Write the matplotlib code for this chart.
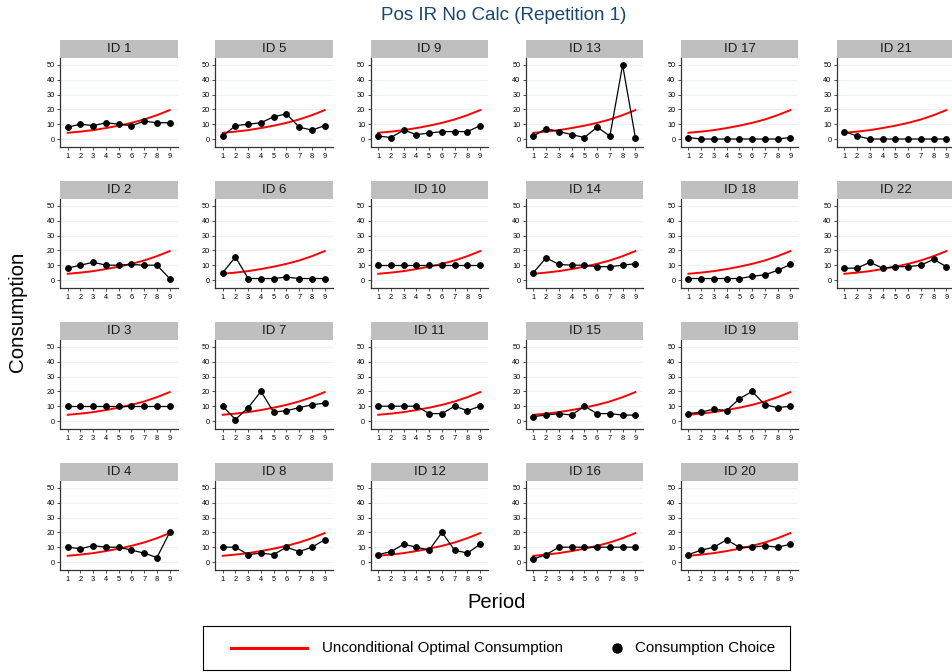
import matplotlib
matplotlib.use("Agg")
import matplotlib.pyplot as plt
from matplotlib.lines import Line2D

plt.rcParams['font.family'] = ['Liberation Sans', 'DejaVu Sans']

periods = [1, 2, 3, 4, 5, 6, 7, 8, 9]
optimal = [4.2, 5.0, 6.0, 7.4, 9.0, 10.9, 13.2, 16.1, 19.5]

choices = {
    1: [8, 10, 9, 11, 10, 9, 12, 11, 11],
    2: [8, 10, 12, 10, 10, 10.5, 10, 10, 1],
    3: [10, 10, 10, 10, 10, 10, 10, 10, 10],
    4: [10, 9, 11, 10, 10, 8, 6, 3, 20],
    5: [2, 9, 10, 11, 15, 17, 8, 6, 9],
    6: [5, 15.5, 1, 1, 1, 2, 1, 1, 1],
    7: [10, 1, 9, 20, 6, 7, 9, 11, 12],
    8: [10, 10, 5, 6, 5, 10, 7, 10, 15],
    9: [2, 1, 6, 3, 4, 5, 5, 5, 9],
    10: [10, 10, 10, 10, 10, 10, 10, 10, 10],
    11: [10, 10, 10, 10, 5, 5, 10, 7, 10],
    12: [5, 7, 12, 10, 8, 20, 8, 6, 12],
    13: [2, 7, 5, 3, 1, 8, 2, 50, 1],
    14: [5, 15, 10.5, 10, 10, 9, 9, 10, 11],
    15: [3, 4, 5, 4, 10, 5, 5, 4, 4],
    16: [2, 5, 10, 10, 10, 10, 10, 10, 10],
    17: [1, 0, 0, 0, 0, 0, 0, 0, 1],
    18: [1, 1, 1, 1, 1, 2.5, 3.5, 6.5, 10.5],
    19: [5, 6, 8, 7, 15, 20, 11, 9, 10],
    20: [5, 8, 10, 15, 10, 10, 11, 10, 12],
    21: [5, 2, 0, 0, 0, 0, 0, 0, 0],
    22: [8, 8, 12, 8, 9, 9, 10, 14, 9],
}

title = "Pos IR No Calc (Repetition 1)"
yticks = [0, 10, 20, 30, 40, 50]

W, H = 952, 672
fig = plt.figure(figsize=(W / 100, H / 100), dpi=100)

col_left = [60.3, 215.3, 370.8, 526.0, 681.0, 837.0]
ax_w = 117.4
row_top = [58, 199, 340, 481]
ax_h = 89
strip_h = 18

for pid, vals in choices.items():
    c = (pid - 1) // 4
    r = (pid - 1) % 4
    left = col_left[c]
    top = row_top[r]
    ax = fig.add_axes([left / W, 1 - (top + ax_h) / H, ax_w / W, ax_h / H])
    ax.set_xlim(0.42, 9.63)
    ax.set_ylim(-5.4, 54.7)
    for yv in yticks:
        ax.axhline(yv, color='#eaf2f3', lw=0.8, zorder=0)
    ax.plot(periods, optimal, color='#ff0000', lw=1.4, zorder=2)
    ax.plot(periods, vals, color='black', lw=0.9, marker='o', ms=3.9, zorder=3)
    ax.set_xticks(periods)
    ax.set_yticks(yticks)
    ax.tick_params(axis='both', labelsize=5.3, length=2.5, width=0.6, pad=1.5, colors='#333333', labelcolor='black')
    for s in ['top', 'right']:
        ax.spines[s].set_visible(False)
    for s in ['left', 'bottom']:
        ax.spines[s].set_color('#333333')
        ax.spines[s].set_linewidth(0.9)
    # strip
    sax = fig.add_axes([left / W, 1 - top / H, ax_w / W, strip_h / H])
    sax.set_facecolor('#bfbfbf')
    sax.set_xticks([])
    sax.set_yticks([])
    for s in sax.spines.values():
        s.set_visible(False)
    sax.text(0.5, 0.48, f"ID {pid}", ha='center', va='center', fontsize=9.5, color='#1a1a1a', transform=sax.transAxes)

fig.text(504 / W, 1 - 15 / H, title, ha='center', va='center', fontsize=13.5, color='#1a476f')
fig.text(18 / W, 1 - 312 / H, "Consumption", ha='center', va='center', rotation=90, fontsize=14.8)
fig.text(497 / W, 1 - 603 / H, "Period", ha='center', va='center', fontsize=14.5)

# legend box
lax = fig.add_axes([203 / W, 1 - 670 / H, (790 - 203) / W, (670 - 626) / H])
lax.set_xlim(0, 587)
lax.set_ylim(0, 44)
lax.set_xticks([])
lax.set_yticks([])
for s in lax.spines.values():
    s.set_color('black')
    s.set_linewidth(0.8)
lax.add_line(Line2D([28, 104], [22, 22], color='#ff0000', lw=2.2))
lax.text(119, 22, "Unconditional Optimal Consumption", va='center', ha='left', fontsize=10.9)
lax.plot([414], [22], marker='o', color='black', ms=6.5)
lax.text(432, 22, "Consumption Choice", va='center', ha='left', fontsize=10.9)

fig.savefig("out.png", dpi=100)
